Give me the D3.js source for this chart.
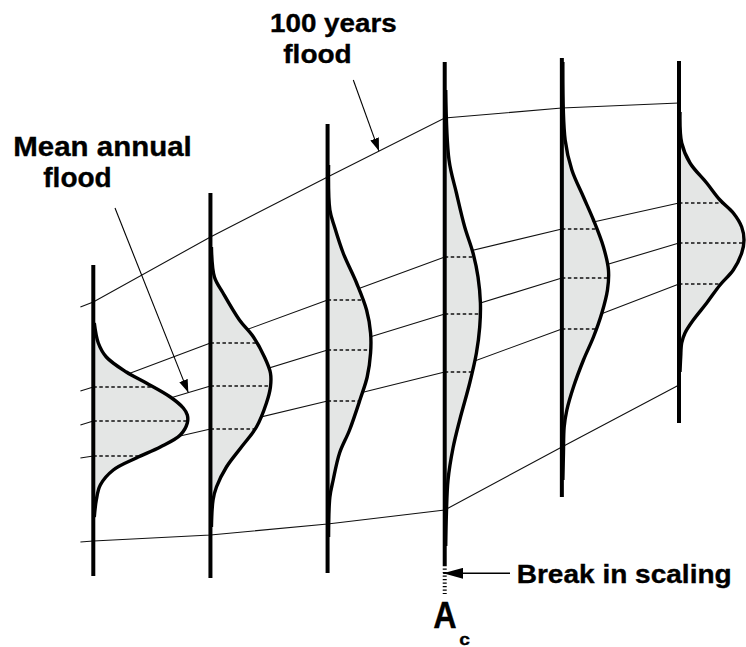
<!DOCTYPE html>
<html>
<head>
<meta charset="utf-8">
<script src="https://cdn.jsdelivr.net/npm/d3@7"></script>
<style>
  html, body { margin: 0; padding: 0; background: #fff; }
  svg { display: block; }
  text { font-family: "Liberation Sans", Arial, Helvetica, sans-serif; font-weight: bold; fill: #000; stroke: #000; stroke-width: 0.35px; }
</style>
</head>
<body>
<script>
// ---------------- data ----------------
// catchment positions (drainage-area index); 0.89 = left stub of the lines
const sites = [1, 2, 3, 4, 5, 6];
const stubSite = 0.89;
const lineSites = [stubSite, 1, 2, 3, 4, 5, 6];

// flood levels (schematic discharge units) along each connecting line
const q100Line   = [293, 298, 363, 423, 482, 492, 497];   // 100 years flood
const upperLine  = [209, 213, 257, 300, 343, 371, 397];
const meanLine   = [175, 179, 214, 250, 286, 322, 357];   // mean annual flood
const lowerLine  = [142, 144, 171, 199, 228, 271, 316];
const bottomLine = [58, 59, 65, 76, 90, 153, 215];

// vertical axis extents per site
const axisTop    = [335, 407, 476, 538, 542, 539];
const axisBottom = [24, 22, 27, 35, 103, 177];
const breakSite = 4, breakBottom = 6;

// density curves per site: [discharge, density]
const dist1 = [[277,1],[257,5],[243,13],[228,33],[217,53],[203,77],[192,90],[185,94],[177,94],[165,87],[153,67],[142,43],[130,20],[115,7],[100,3],[83,1]];
const dist2 = [[353,1],[323,4],[307,12.6],[280,29],[263,43],[243,54],[227,60],[213,60],[197,56],[173,46],[153,31],[133,16],[113,6],[100,2.6],[73,1]];
const dist3 = [[435,1],[390,2.3],[373,7],[347,15.6],[317,29],[290,39],[267,43],[247,43],[223,39.6],[202,33],[170,22],[147,12],[120,5.6],[103,2.3],[63,1]];
const dist4 = [[510,1],[440,4.3],[407,11.7],[373,20],[347,28.3],[323,33.3],[297,35.7],[273,35],[247,31.7],[217,25],[180,15],[152,8.3],[120,3.3],[87,1.7],[54,1]];
const dist5 = [[538,1],[460,3.3],[430,10],[403,21.6],[380,31.6],[353,41.6],[330,46.6],[310,45.6],[287,40],[263,31.6],[240,21.6],[213,11.6],[190,5],[173,2.3],[147,1.6],[120,1]];
const dist6 = [[488,1],[457,2.7],[437,11],[417,27.7],[400,41],[387,54.3],[373,62.7],[360,65],[347,62.7],[330,54.3],[315,41],[297,27.7],[280,14.3],[267,6],[257,2.7],[243,1.7],[228,1]];
const dists = [dist1, dist2, dist3, dist4, dist5, dist6];

const labels = {
  q100: ["100 years", "flood"],
  mean: ["Mean annual", "flood"],
  brk: "Break in scaling",
  ac: ["A", "c"]
};

// ---------------- drawing ----------------
const W = 746, H = 647;
const svg = d3.select("body").append("svg").attr("width", W).attr("height", H);

const x = d3.scaleLinear().domain([1, 6]).range([93.3, 679]);
const y = d3.scaleLinear().domain([0, 600]).range([600, 0]);
const w = d3.scaleLinear().domain([0, 100]).range([0, 100]);

const defs = svg.append("defs");
function marker(id, len, half) {
  defs.append("marker").attr("id", id)
    .attr("viewBox", `0 ${-half} ${len} ${2*half}`)
    .attr("refX", len).attr("refY", 0)
    .attr("markerWidth", len).attr("markerHeight", 2*half)
    .attr("markerUnits", "userSpaceOnUse")
    .attr("orient", "auto")
    .append("path").attr("d", `M0,${-half}L${len},0L0,${half}Z`).attr("fill", "#000");
}
marker("arrowA", 13, 4.5);
marker("arrowB", 20, 5.5);

// connecting lines
const lineGen = d3.line().x((d, i) => x(lineSites[i])).y(d => y(d));
[q100Line, upperLine, meanLine, lowerLine, bottomLine].forEach(L => {
  svg.append("path").attr("d", lineGen(L))
    .attr("fill", "none").attr("stroke", "#111").attr("stroke-width", 1.1);
});

// distributions
const areaGen = (site) => d3.area()
  .y(d => y(d[0]))
  .x0(x(site))
  .x1(d => x(site) + w(d[1]))
  .curve(d3.curveCatmullRom.alpha(0.5));
const curveGen = (site) => d3.line()
  .y(d => y(d[0]))
  .x(d => x(site) + w(d[1]))
  .curve(d3.curveCatmullRom.alpha(0.5));

dists.forEach((D, i) => {
  const s = sites[i];
  defs.append("clipPath").attr("id", "clip" + i)
    .append("path").attr("d", areaGen(s)(D));
  svg.append("path").attr("d", areaGen(s)(D)).attr("fill", "#e4e6e5").attr("stroke", "none");
  const g = svg.append("g").attr("clip-path", `url(#clip${i})`);
  [upperLine, meanLine, lowerLine].forEach(L => {
    const q = L[i + 1];
    g.append("line")
      .attr("x1", x(s)).attr("x2", x(s) + w(110))
      .attr("y1", y(q)).attr("y2", y(q))
      .attr("stroke", "#111").attr("stroke-width", 1.3)
      .attr("stroke-dasharray", "3.5,2.5");
  });
  svg.append("path").attr("d", curveGen(s)(D))
    .attr("fill", "none").attr("stroke", "#000").attr("stroke-width", 3.4)
    .attr("stroke-linejoin", "round");
});

// vertical axes
sites.forEach((s, i) => {
  svg.append("line")
    .attr("x1", x(s)).attr("x2", x(s))
    .attr("y1", y(axisTop[i])).attr("y2", y(axisBottom[i]))
    .attr("stroke", "#000").attr("stroke-width", 4);
});
// break in scaling (dotted continuation)
svg.append("line")
  .attr("x1", x(breakSite)).attr("x2", x(breakSite))
  .attr("y1", y(axisBottom[breakSite - 1])).attr("y2", y(breakBottom))
  .attr("stroke", "#000").attr("stroke-width", 4).attr("stroke-dasharray", "1.3,2.2");

// annotations
function label(txt, x0, base, len, size) {
  svg.append("text").attr("x", x0).attr("y", base)
    .attr("font-size", size)
    .attr("textLength", len).attr("lengthAdjust", "spacingAndGlyphs")
    .text(txt);
}
label(labels.q100[0], 270, 31.7, 126.7, 26.5);
label(labels.q100[1], 283.3, 63.3, 68.4, 26.5);
label(labels.mean[0], 13.3, 156, 178.4, 27);
label(labels.mean[1], 43.3, 186.7, 68.4, 27);
label(labels.brk, 516.7, 582.7, 215, 25);
label(labels.ac[0], 433.3, 628.3, 23.4, 37);
label(labels.ac[1], 459.3, 644.5, 10.7, 17);

// pointer arrows
// 100-year arrow: tip on q100 line between site 3 and 4
const tipS1 = 3 + (379 - x(3)) / (x(4) - x(3));
const tipQ1 = q100Line[3] + (q100Line[4] - q100Line[3]) * (tipS1 - 3);
svg.append("line").attr("x1", 353.3).attr("y1", 80).attr("x2", x(tipS1)).attr("y2", y(tipQ1))
  .attr("stroke", "#000").attr("stroke-width", 1.1).attr("marker-end", "url(#arrowA)");
// mean annual arrow: tip on mean line between site 1 and 2
const tipS2 = 1 + (188.3 - x(1)) / (x(2) - x(1));
const tipQ2 = meanLine[1] + (meanLine[2] - meanLine[1]) * (tipS2 - 1);
svg.append("line").attr("x1", 115).attr("y1", 208).attr("x2", x(tipS2)).attr("y2", y(tipQ2))
  .attr("stroke", "#000").attr("stroke-width", 1.1).attr("marker-end", "url(#arrowA)");
// break in scaling arrow
svg.append("line").attr("x1", 510).attr("y1", 573.3).attr("x2", x(breakSite) - 1.5).attr("y2", 573.3)
  .attr("stroke", "#000").attr("stroke-width", 1.6).attr("marker-end", "url(#arrowB)");
</script>
</body>
</html>
